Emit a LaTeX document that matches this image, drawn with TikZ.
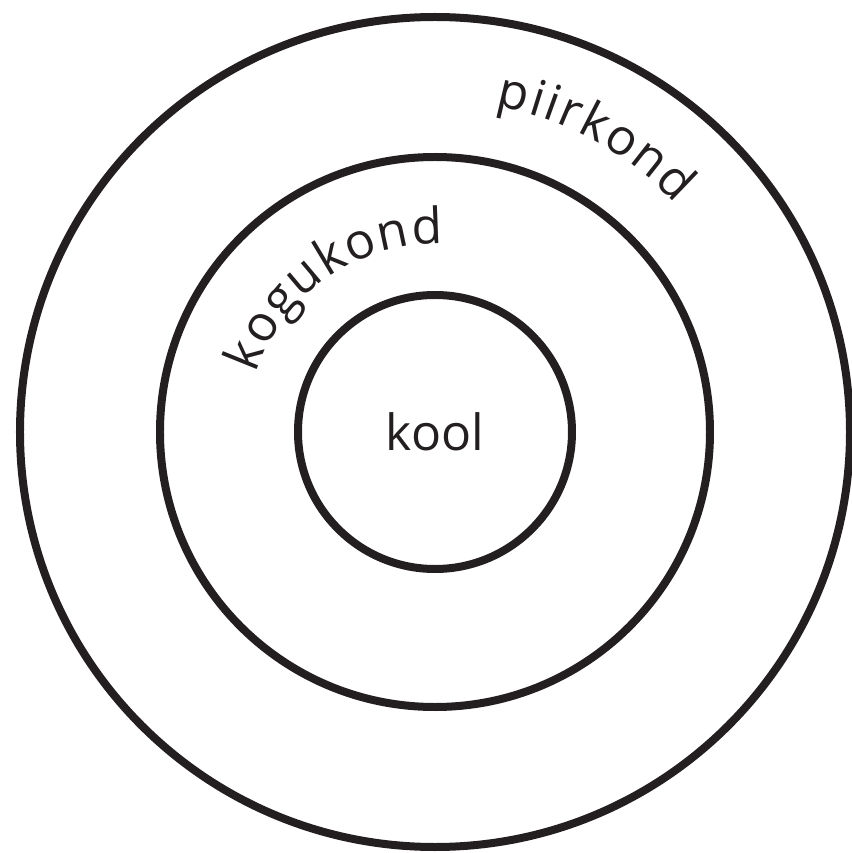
\documentclass[tikz,border=0pt]{standalone}
\usepackage{fontspec}
\usepackage{tikz}
\usepackage{xcolor}
\usetikzlibrary{decorations.text}
\newfontfamily\ringfont{Open Sans}
\definecolor{ringInk}{HTML}{231F20}

\begin{document}
\begin{tikzpicture}[
  ring/.style={draw=ringInk, line width=4.55pt, circle, inner sep=0pt,
               text=ringInk, font=\ringfont\fontsize{28.4}{30}\selectfont},
  arclabel/.style={decorate, decoration={text along path, text align=fit to path,
               text={|\ringfont\fontsize{28.4}{30}\selectfont\color{ringInk}|#1}}},
]
  \useasboundingbox (-8.7,-8.42) rectangle (8.32,8.64);
  % rings, outside in
  \node[ring, minimum size=16.6cm] (piirkond) at (0,0) {};
  \node[ring, minimum size=11cm] (kogukond) at (0,0) {};
  \node[ring, minimum size=5.48cm] (kool) at (0,0) {kool};
  % curved labels
  \path[arclabel=piirkond] (79.5:6.64) arc[start angle=79.5, end angle=43.5, radius=6.64];
  \path[arclabel=kogukond] (162:3.76) arc[start angle=162, end angle=87.5, radius=3.76];
\end{tikzpicture}
\end{document}
